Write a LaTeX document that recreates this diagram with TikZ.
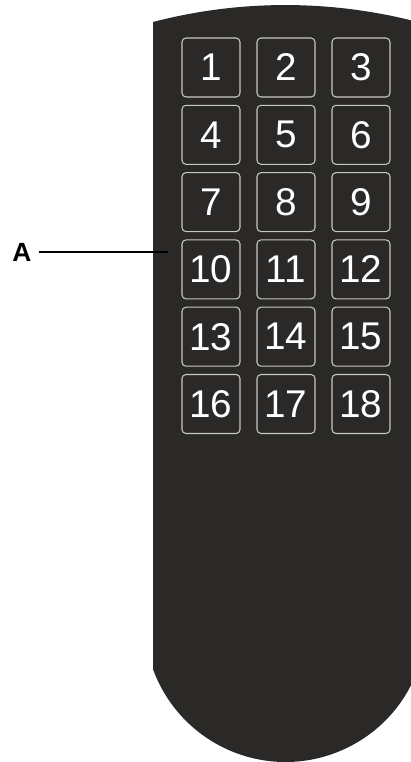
\documentclass[tikz,border=0pt]{standalone}
\usepackage{fontspec}
\setmainfont{Liberation Sans}
\definecolor{remote}{RGB}{43,41,39}
\definecolor{keyrim}{RGB}{200,200,198}
\tikzset{
  key/.style={draw=keyrim, line width=0.6pt, rounded corners=0.08cm,
    minimum width=1.16cm, minimum height=1.18cm, inner sep=0pt,
    text=white, font=\fontsize{22}{22}\selectfont},
  lbl/.style={font=\bfseries\fontsize{15}{15}\selectfont, inner ysep=0pt, inner xsep=4pt}
}
\begin{document}
\begin{tikzpicture}[x=0.02cm,y=0.02cm]
  \clip (0,0) rectangle (411,762);
  % body
  \fill[remote] (153,740) arc (104.6:75.4:525) -- (418,92.8) arc (-20:-160:141) -- cycle;
  % keys
  \foreach \r in {0,...,5}
    \foreach \c in {1,2,3}{
      \pgfmathtruncatemacro\n{3*\r+\c}
      \node[key] (k\n) at ({211+75*(\c-1)},{694.5-67.3*\r}) {\n};
    }
  % label
  \node[lbl] (lblA) at (22,510) {A};
  \coordinate (tipA) at (168,510);
  \draw[line width=1.1pt] (lblA) -- (tipA);
\end{tikzpicture}
\end{document}
